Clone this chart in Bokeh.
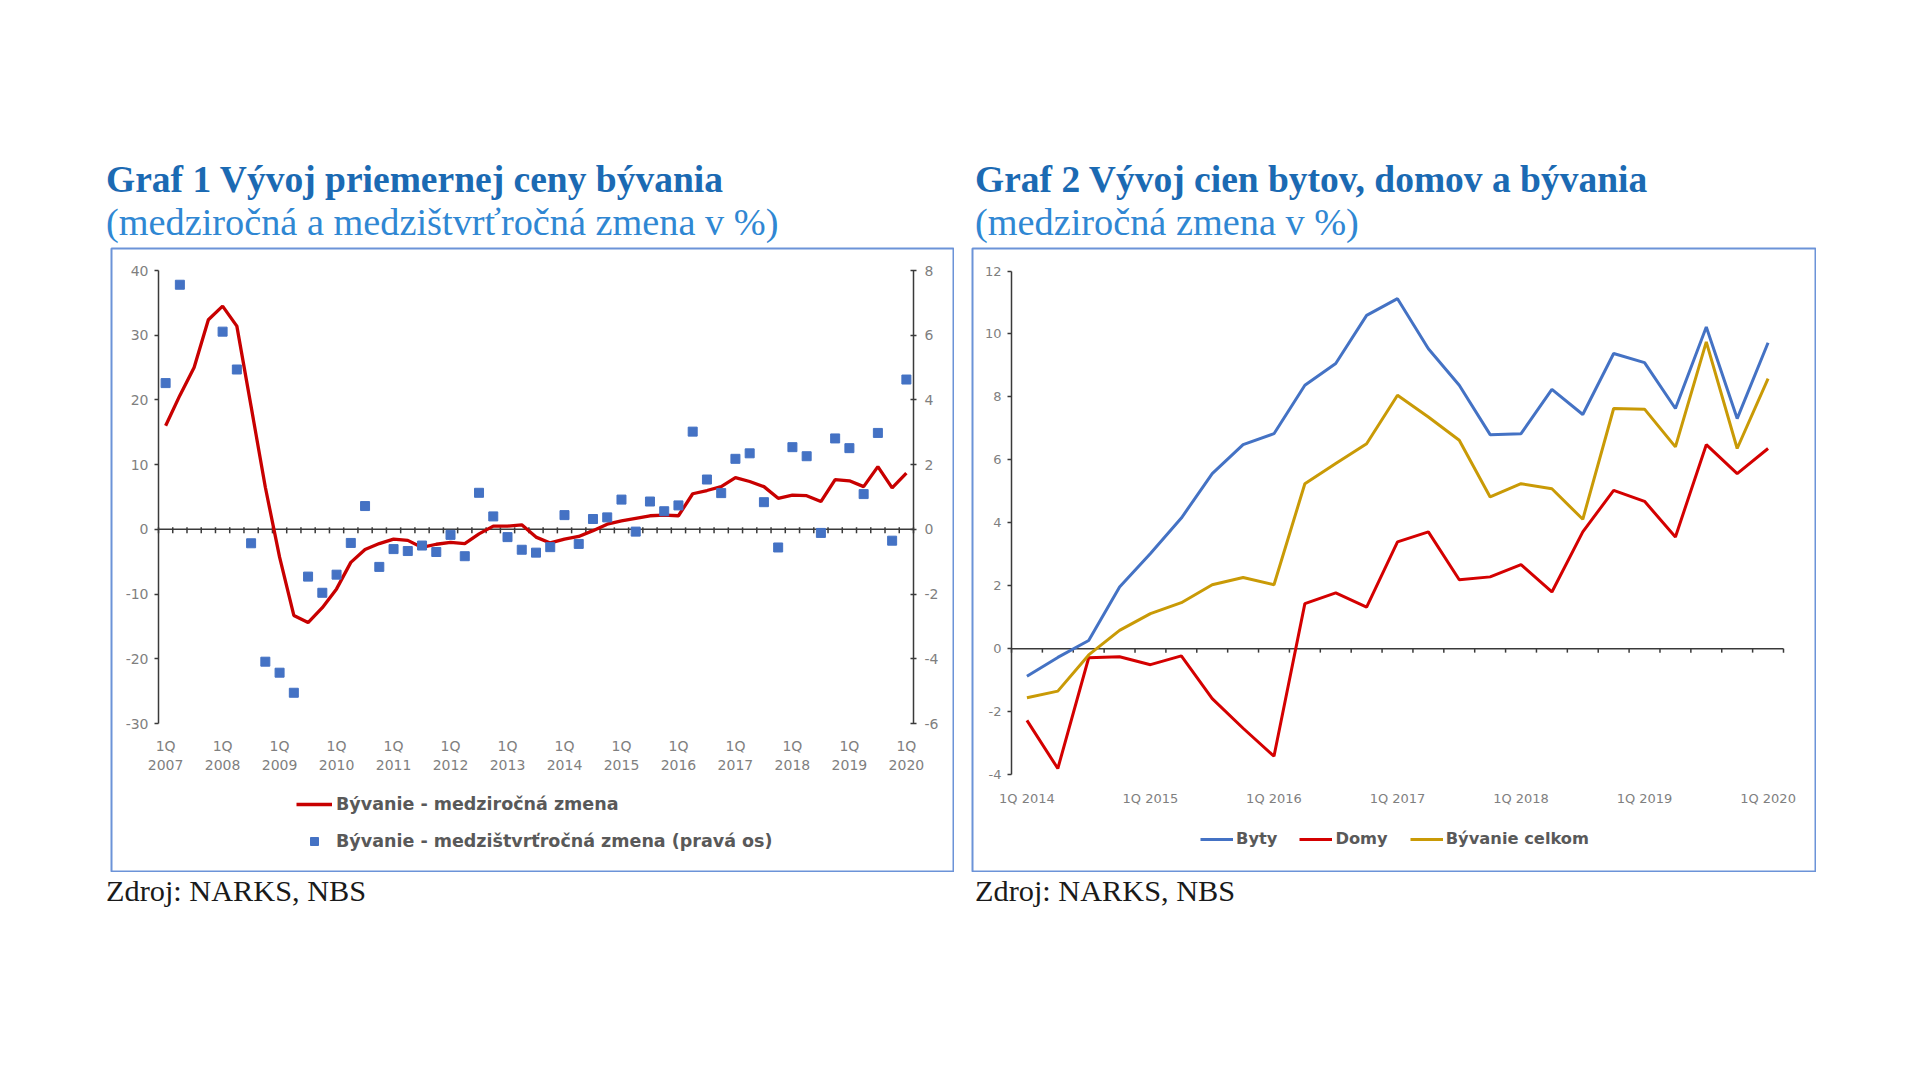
from bokeh.plotting import figure
from bokeh.models import (Range1d, LinearAxis, FixedTicker, Legend, LegendItem,
                          ColumnDataSource, Div, Spacer)
from bokeh.layouts import row, column
from bokeh.embed import file_html
from bokeh.resources import INLINE

# ---------------- Graf 1 data ----------------
g1_quarters = [f"{q}Q {y}" for y in range(2007, 2021) for q in (1, 2, 3, 4)][:53]
g1_yoy = [16.0, 20.7, 25.0, 32.4, 34.5, 31.4, 19.0, 6.5, -4.3, -13.3,
          -14.4, -12.1, -9.2, -5.1, -3.1, -2.2, -1.5, -1.7, -2.8, -2.3,
          -2.0, -2.2, -0.7, 0.5, 0.5, 0.7, -1.2, -2.1, -1.5, -1.1,
          -0.2, 0.8, 1.3, 1.7, 2.1, 2.2, 2.1, 5.5, 6.0, 6.6,
          8.0, 7.4, 6.6, 4.8, 5.3, 5.2, 4.3, 7.7, 7.5, 6.6,
          9.7, 6.4, 8.7]
g1_qoq = [4.52, 7.56, None, None, 6.11, 4.94, -0.43, -4.09, -4.43, -5.05,
          -1.46, -1.96, -1.40, -0.42, 0.72, -1.16, -0.61, -0.67, -0.50, -0.70,
          -0.17, -0.83, 1.13, 0.40, -0.24, -0.63, -0.72, -0.55, 0.44, -0.45,
          0.32, 0.37, 0.92, -0.07, 0.86, 0.56, 0.74, 3.02, 1.54, 1.12,
          2.18, 2.35, 0.84, -0.56, 2.54, 2.26, -0.11, 2.81, 2.51, 1.09,
          2.98, -0.35, 4.63]
g1_tick_labels = ["1Q\n2007", "1Q\n2008", "1Q\n2009", "1Q\n2010", "1Q\n2011",
                  "1Q\n2012", "1Q\n2013", "1Q\n2014", "1Q\n2015", "1Q\n2016",
                  "1Q\n2017", "1Q\n2018", "1Q\n2019", "1Q\n2020"]
g1_left_ticks = [-30, -20, -10, 0, 10, 20, 30, 40]
g1_right_ticks = [-6, -4, -2, 0, 2, 4, 6, 8]

# ---------------- Graf 2 data ----------------
g2_quarters = [f"{q}Q {y}" for y in range(2014, 2021) for q in (1, 2, 3, 4)][:25]
g2_byty = [-0.88, -0.28, 0.26, 1.96, 3.02, 4.15, 5.56, 6.48, 6.83, 8.37,
           9.06, 10.59, 11.12, 9.53, 8.37, 6.80, 6.83, 8.24, 7.44, 9.38,
           9.09, 7.63, 10.22, 7.31, 9.72]
g2_domy = [-2.28, -3.81, -0.29, -0.26, -0.51, -0.23, -1.59, -2.53, -3.42, 1.43,
           1.77, 1.32, 3.39, 3.71, 2.19, 2.28, 2.67, 1.80, 3.71, 5.03,
           4.68, 3.55, 6.48, 5.56, 6.36]
g2_celkom = [-1.56, -1.35, -0.20, 0.58, 1.11, 1.46, 2.03, 2.26, 2.03, 5.24,
             5.88, 6.51, 8.05, 7.36, 6.62, 4.82, 5.24, 5.08, 4.11, 7.63,
             7.61, 6.41, 9.75, 6.36, 8.58]
g2_tick_labels = ["1Q 2014", "1Q 2015", "1Q 2016", "1Q 2017", "1Q 2018",
                  "1Q 2019", "1Q 2020"]
g2_left_ticks = [-4, -2, 0, 2, 4, 6, 8, 10, 12]

# ---------------- styles / layout constants ----------------
AX = "#3a3a3a"
TICK_COLOR = "#7f7f7f"
SANS = "DejaVu Sans"
SERIF = "Liberation Serif"
BOX_COLOR = "#6C93D8"
BOX_H = 625
BOX_TOP = 247          # page y of the blue box
MB = 1                 # canvas edge -> frame (box outline)


def make_fig(page_left, w, n, ticks, px_x, px_y):
    """Frame = whole blue box; ranges chosen so that the data area lands on px_x/px_y."""
    f_left, f_right = page_left + MB, page_left + w - MB
    f_top, f_bot = BOX_TOP + MB, BOX_TOP + BOX_H - MB
    ppx = (px_x[1] - px_x[0]) / n
    ppy = (px_y[1] - px_y[0]) / (ticks[-1] - ticks[0])
    xr = Range1d(-0.5 - (px_x[0] - f_left) / ppx, n - 0.5 + (f_right - px_x[1]) / ppx)
    yr = Range1d(ticks[0] - (f_bot - px_y[1]) / ppy, ticks[-1] + (px_y[0] - f_top) / ppy)
    p = figure(width=w, height=BOX_H, x_range=xr, y_range=yr,
               output_backend="svg", toolbar_location=None,
               min_border_left=MB, min_border_right=MB, min_border_top=MB,
               min_border_bottom=MB, outline_line_color=BOX_COLOR,
               outline_line_width=2,
               background_fill_color="white", border_fill_color="white")
    p.xgrid.grid_line_color = None
    p.ygrid.grid_line_color = None
    return p, ppy, (f_left, f_bot)


def style_axis(ax, size, ticks, loc):
    ax.fixed_location = loc
    ax.ticker = FixedTicker(ticks=ticks)
    ax.major_label_overrides = {t: str(t) for t in ticks}
    ax.bounds = (ticks[0], ticks[-1])
    ax.axis_line_color = AX
    ax.axis_line_width = 1.5
    ax.major_tick_line_color = AX
    ax.major_tick_line_width = 1.5
    ax.minor_tick_line_color = None
    ax.major_label_text_font = SANS
    ax.major_label_text_font_size = size
    ax.major_label_text_color = TICK_COLOR


def label_axis(ax, quarters, labels, standoff, size, loc):
    pos = [i for i, q in enumerate(quarters) if q.startswith("1Q")]
    ax.fixed_location = loc
    ax.ticker = FixedTicker(ticks=pos)
    ax.major_label_overrides = {p: l for p, l in zip(pos, labels)}
    ax.axis_line_color = None
    ax.major_tick_line_color = None
    ax.major_tick_out = 0
    ax.major_tick_in = 0
    ax.minor_tick_line_color = None
    ax.major_label_standoff = standoff
    ax.major_label_text_font = SANS
    ax.major_label_text_font_size = size
    ax.major_label_text_color = TICK_COLOR


def zero_line(p, n, ppu, t_up, t_down):
    # horizontal axis line at 0 with tick marks on category boundaries
    b = [i - 0.5 for i in range(n + 1)]
    p.segment(x0=b, x1=b, y0=[t_up / ppu] * len(b), y1=[-t_down / ppu] * len(b),
              line_color=AX, line_width=1.5)
    p.segment(x0=[b[0]], x1=[b[-1]], y0=[0], y1=[0], line_color=AX, line_width=1.5)


# ---------------- Graf 1 ----------------
n1 = len(g1_quarters)
src1 = ColumnDataSource(dict(
    x=list(range(n1)),
    yoy=g1_yoy,
    qoq=[float("nan") if v is None else v for v in g1_qoq]))

p1, ppu1, fo1 = make_fig(110, 844, n1, g1_left_ticks, (158, 913), (270, 723))
ratio = g1_left_ticks[-1] / g1_right_ticks[-1]
p1.extra_y_ranges = {"r": Range1d(p1.y_range.start / ratio, p1.y_range.end / ratio)}

yl = p1.yaxis[0]
style_axis(yl, "14px", g1_left_ticks, -0.5)
yl.major_tick_out = 4
yl.major_tick_in = 0
yl.major_label_standoff = 6

yr = LinearAxis(y_range_name="r")
style_axis(yr, "14px", g1_right_ticks, n1 - 0.5)
yr.major_tick_out = 3
yr.major_tick_in = 3
yr.major_label_standoff = 8
p1.add_layout(yr, "right")

label_axis(p1.xaxis[0], g1_quarters, g1_tick_labels, 14, "14px", g1_left_ticks[0])
zero_line(p1, n1, ppu1, 2, 4)

r_yoy = p1.line("x", "yoy", source=src1, line_color="#C80000", line_width=3.3)
r_qoq = p1.scatter("x", "qoq", source=src1, y_range_name="r", marker="square",
                   size=9, fill_color="#4472C4", line_color="#4472C4")

leg1 = Legend(items=[LegendItem(label="Bývanie - medziročná zmena", renderers=[r_yoy]),
                     LegendItem(label="Bývanie - medzištvrťročná zmena (pravá os)",
                                renderers=[r_qoq])],
              location=(296 - fo1[0], fo1[1] - 851), orientation="vertical",
              border_line_color=None, background_fill_alpha=0,
              label_text_font=SANS, label_text_font_style="bold",
              label_text_font_size="17.5px", label_text_color="#595959",
              glyph_width=36, glyph_height=20, label_height=20, spacing=17,
              label_standoff=4, padding=0, margin=0)
p1.add_layout(leg1, "center")

# ---------------- Graf 2 ----------------
n2 = len(g2_quarters)
src2 = ColumnDataSource(dict(x=list(range(n2)), byty=g2_byty, domy=g2_domy,
                             celkom=g2_celkom))

p2, ppu2, fo2 = make_fig(971, 845, n2, g2_left_ticks, (1011, 1783), (270.5, 774))

y2 = p2.yaxis[0]
style_axis(y2, "13px", g2_left_ticks, -0.5)
y2.major_tick_out = 4
y2.major_tick_in = 0
y2.major_label_standoff = 6

label_axis(p2.xaxis[0], g2_quarters, g2_tick_labels, 16, "13px", g2_left_ticks[0])
zero_line(p2, n2, ppu2, 0, 4)

r_b = p2.line("x", "byty", source=src2, line_color="#4472C4", line_width=3)
r_d = p2.line("x", "domy", source=src2, line_color="#D40000", line_width=3)
r_c = p2.line("x", "celkom", source=src2, line_color="#C99A06", line_width=3)

leg2 = Legend(items=[LegendItem(label="Byty", renderers=[r_b]),
                     LegendItem(label="Domy", renderers=[r_d]),
                     LegendItem(label="Bývanie celkom", renderers=[r_c])],
              location=(1200 - fo2[0], fo2[1] - 848), orientation="horizontal",
              border_line_color=None, background_fill_alpha=0,
              label_text_font=SANS, label_text_font_style="bold",
              label_text_font_size="16.3px", label_text_color="#595959",
              glyph_width=33, glyph_height=18, label_height=18, spacing=22,
              label_standoff=3, padding=0, margin=0)
p2.add_layout(leg2, "center")

# ---------------- texts ----------------
def title_div(t, s, w):
    html = (f'<div style="font-family:\'{SERIF}\';white-space:nowrap;">'
            f'<div style="font-weight:bold;font-size:37.5px;line-height:42px;color:#1B6AB3;">{t}</div>'
            f'<div style="font-size:38.3px;line-height:42px;color:#2F87D3;">{s}</div></div>')
    return Div(text=html, width=w, height=88, margin=0)


def src_div(w):
    html = (f'<div style="font-family:\'{SERIF}\';font-size:30.3px;line-height:34px;'
            f'padding-top:2px;color:#1a1a1a;white-space:nowrap;">Zdroj: NARKS, NBS</div>')
    return Div(text=html, width=w, height=48, margin=0)


t1 = title_div("Graf 1 Vývoj priemernej ceny bývania",
               "(medziročná a medzištvrťročná zmena v %)", 869)
t2 = title_div("Graf 2 Vývoj cien bytov, domov a bývania",
               "(medziročná zmena v %)", 945)

root = column(
    Spacer(width=1920, height=159),
    row(Spacer(width=106, height=88), t1, t2),
    row(Spacer(width=110, height=BOX_H), p1, Spacer(width=17, height=BOX_H), p2),
    row(Spacer(width=106, height=48), src_div(869), src_div(945)),
)

open("out.html", "w").write(file_html(root, INLINE))
